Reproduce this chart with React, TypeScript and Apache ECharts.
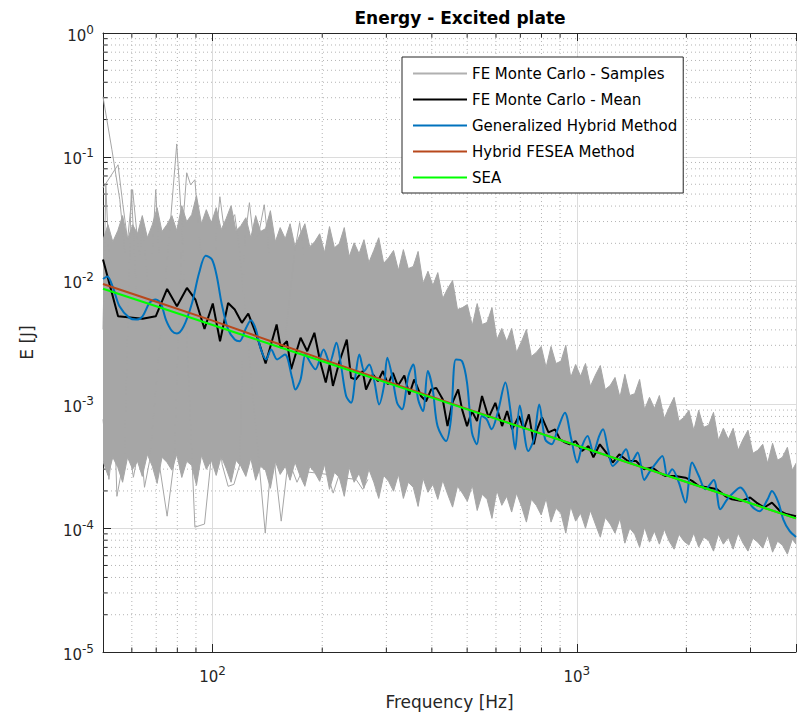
import React, { useEffect, useRef } from 'react';
import * as echarts from 'echarts';

const FONT = 'DejaVu Sans';
const GRAY = '#a6a6a6';
const AXIS = '#262626';

const X_MIN = 50;
const X_MAX = 4000;
const Y_MIN = 1e-5;
const Y_MAX = 1;

const legendNames = [
  'FE Monte Carlo - Samples',
  'FE Monte Carlo - Mean',
  'Generalized Hybrid Method',
  'Hybrid FESEA Method',
  'SEA',
];
const legendColors = ['#b0b0b0', '#000000', '#0072bd', '#b8481c', '#00ff00'];

const xMinorTicks = [60, 70, 80, 90, 200, 300, 400, 500, 600, 700, 800, 900, 2000, 3000];
const yMinorTicks = [
  2e-5, 3e-5, 4e-5, 5e-5, 6e-5, 7e-5, 8e-5, 9e-5,
  2e-4, 3e-4, 4e-4, 5e-4, 6e-4, 7e-4, 8e-4, 9e-4,
  2e-3, 3e-3, 4e-3, 5e-3, 6e-3, 7e-3, 8e-3, 9e-3,
  2e-2, 3e-2, 4e-2, 5e-2, 6e-2, 7e-2, 8e-2, 9e-2,
  0.2, 0.3, 0.4, 0.5, 0.6, 0.7, 0.8, 0.9,
];

// Monte Carlo sample cloud: frequency grid [Hz] with upper and lower envelope [J]
const cloudFreq = [
  50, 51.6, 53.2, 54.9, 56.6, 58.4, 60.3, 62.2, 64.1, 66.2,
  68.3, 70.4, 72.6, 74.9, 77.3, 79.7, 82.3, 84.9, 87.6, 90.3,
  93.2, 96.1, 99.2, 102.3, 105.6, 108.9, 112.4, 115.9, 119.6, 123.4,
  127.3, 131.3, 135.4, 139.7, 144.1, 148.7, 153.3, 158.3, 163.2, 168.4,
  173.7, 179.2, 184.8, 190.7, 196.8, 203, 209.4, 216, 222.8, 229.9,
  237.2, 244.7, 252.4, 260.4, 268.6, 277.1, 285.9, 295, 304.3, 313.9,
  323.8, 334.1, 344.6, 355.6, 366.7, 378.4, 390.3, 402.7, 415.3, 428.6,
  442, 456, 470.4, 485.3, 500.6, 516.5, 532.8, 549.7, 567, 585,
  603.4, 622.5, 642.2, 662.5, 683.4, 705.1, 727.3, 750.4, 774.1, 798.6,
  823.8, 849.9, 876.7, 904.5, 933, 962.6, 992.9, 1024.4, 1056.7, 1090.2,
  1124.6, 1160.6, 1196.8, 1235, 1273.7, 1314, 1355.5, 1398, 1442.6, 1488,
  1535.3, 1584, 1633.9, 1686, 1738.9, 1794, 1850.6, 1909, 1969.5, 2032,
  2096.1, 2162, 2230.7, 2301, 2374, 2449, 2526.6, 2607, 2688.9, 2774,
  2861.7, 2952, 3045.6, 3142, 3241.3, 3344, 3449.5, 3559, 3671.2, 3788,
  3907.1, 4000,
];
const cloudUpper = [
  0.0214, 0.0283, 0.0206, 0.0253, 0.0335, 0.0214, 0.0283, 0.0239, 0.0335, 0.0222,
  0.0283, 0.0388, 0.0249, 0.0283, 0.0335, 0.0253, 0.0403, 0.0299, 0.0341, 0.0485,
  0.0288, 0.0374, 0.0293, 0.0388, 0.0258, 0.0316, 0.0403, 0.0253, 0.0278, 0.0322,
  0.0222, 0.0335, 0.0249, 0.0263, 0.0367, 0.0206, 0.0268, 0.0218, 0.0288, 0.0188,
  0.0235, 0.0288, 0.0188, 0.0206, 0.0239, 0.0168, 0.0273, 0.0184, 0.0199, 0.0268,
  0.0156, 0.0202, 0.0165, 0.0214, 0.014, 0.0175, 0.0222, 0.0138, 0.0153, 0.0175,
  0.0121, 0.0178, 0.0125, 0.013, 0.0172, 0.00947, 0.0119, 0.00912, 0.0116, 0.00716,
  0.00862, 0.01, 0.00583, 0.00605, 0.0064, 0.00434, 0.00652, 0.00442, 0.00459, 0.00605,
  0.00334, 0.00411, 0.00322, 0.00411, 0.00263, 0.00322, 0.00403, 0.00244, 0.00263, 0.00294,
  0.00199, 0.00294, 0.00214, 0.00223, 0.003, 0.00165, 0.0021, 0.00169, 0.00214, 0.0014,
  0.00172, 0.00206, 0.00132, 0.00142, 0.00165, 0.00114, 0.00175, 0.00118, 0.00122, 0.00159,
  9.12e-4, 0.00114, 9.28e-4, 0.00118, 7.71e-4, 9.46e-4, 0.00114, 7.3e-4, 7.85e-4, 8.96e-4,
  6.18e-4, 8.96e-4, 6.53e-4, 6.78e-4, 8.62e-4, 5.13e-4, 6.41e-4, 5.22e-4, 6.41e-4, 4.26e-4,
  5.22e-4, 6.18e-4, 4.03e-4, 4.26e-4, 4.76e-4, 3.34e-4, 4.85e-4, 3.54e-4, 3.74e-4, 4.5e-4,
  2.94e-4, 3.34e-4,
];
const cloudLower = [
  3.47e-4, 2.67e-4, 3.74e-4, 3.1e-4, 2.35e-4, 3.74e-4, 2.99e-4, 3.47e-4, 2.62e-4, 3.95e-4,
  3.16e-4, 2.3e-4, 3.74e-4, 3.41e-4, 2.94e-4, 3.95e-4, 2.57e-4, 3.47e-4, 3.22e-4, 2.22e-4,
  3.88e-4, 2.99e-4, 3.54e-4, 2.67e-4, 3.81e-4, 3.05e-4, 2.35e-4, 3.54e-4, 3.16e-4, 2.62e-4,
  3.67e-4, 2.44e-4, 3.16e-4, 2.94e-4, 2.1e-4, 3.47e-4, 2.72e-4, 3.16e-4, 2.44e-4, 3.41e-4,
  2.67e-4, 2.18e-4, 3.16e-4, 2.82e-4, 2.39e-4, 3.28e-4, 2.06e-4, 2.82e-4, 2.57e-4, 1.81e-4,
  3.1e-4, 2.35e-4, 2.77e-4, 2.1e-4, 2.99e-4, 2.35e-4, 1.74e-4, 2.67e-4, 2.39e-4, 1.99e-4,
  2.72e-4, 1.74e-4, 2.35e-4, 2.14e-4, 1.5e-4, 2.53e-4, 1.95e-4, 2.26e-4, 1.71e-4, 2.44e-4,
  1.88e-4, 1.48e-4, 2.18e-4, 1.92e-4, 1.65e-4, 2.22e-4, 1.39e-4, 1.88e-4, 1.71e-4, 1.2e-4,
  2.02e-4, 1.53e-4, 1.81e-4, 1.35e-4, 1.92e-4, 1.5e-4, 1.12e-4, 1.71e-4, 1.53e-4, 1.28e-4,
  1.74e-4, 1.12e-4, 1.45e-4, 1.32e-4, 9.12e-5, 1.5e-4, 1.14e-4, 1.32e-4, 1.0e-4, 1.39e-4,
  1.08e-4, 8.46e-5, 1.22e-4, 1.08e-4, 9.12e-5, 1.2e-4, 7.57e-5, 1.0e-4, 8.95e-5, 7.03e-5,
  1.02e-4, 7.71e-5, 9.46e-5, 7.43e-5, 9.82e-5, 7.85e-5, 6.77e-5, 8.95e-5, 7.85e-5, 7.3e-5,
  9.12e-5, 7.03e-5, 8.46e-5, 8.0e-5, 6.53e-5, 8.95e-5, 7.43e-5, 8.46e-5, 6.77e-5, 9.12e-5,
  7.57e-5, 6.53e-5, 8.3e-5, 7.71e-5, 6.9e-5, 8.79e-5, 6.4e-5, 7.85e-5, 7.3e-5, 6.17e-5,
  8.15e-5, 7.43e-5,
];

// Individual outlying sample realisations [Hz, J]
const sampleA = [
  [50, 0.305], [52.9, 0.114], [55.6, 0.045], [59.1, 7.03e-3], [65.0, 2.14e-4], [67.1, 3.47e-4],
  [75.9, 0.0214], [79.7, 0.127], [82.8, 0.0214], [89.4, 1.02e-4], [95.0, 1.08e-4], [98.7, 3.28e-4],
  [102.0, 0.0214], [104.7, 0.0476], [107.6, 0.0258], [115.0, 0.0341], [118.1, 0.0195], [134.6, 2.99e-4],
  [139.5, 9.12e-5], [144.1, 2.88e-4], [168.4, 0.0178], [173.4, 0.0294], [178.1, 0.0162],
];
const sampleB = [
  [50, 0.0562], [55.0, 0.0862], [56.7, 0.041], [58.4, 0.0214], [60.3, 0.0542], [62.2, 0.0214],
  [71.4, 3.28e-4], [75.0, 1.25e-4], [78.4, 3.47e-4], [82.3, 0.0214], [84.9, 0.0743], [87.0, 0.0594],
  [89.4, 0.0653], [92.1, 0.0214], [106.2, 3.28e-4], [110.3, 2.18e-4], [114.4, 2.26e-4], [118.8, 3.28e-4],
  [122.6, 0.0214], [126.2, 0.0426], [129.6, 0.0214], [133.7, 0.0235], [138.6, 0.041], [142.3, 0.0195],
  [148.6, 2.99e-4], [154.3, 1.14e-4], [160.2, 2.99e-4], [165.3, 2.99e-4], [170.5, 2.35e-4], [175.9, 2.88e-4],
  [206.9, 2.72e-4], [214.3, 1.92e-4], [221.4, 2.58e-4], [247.7, 2.48e-4], [258.3, 2.06e-4], [267.0, 2.48e-4],
];
const sampleC = [
  [50, 4.03e-3], [50.9, 0.0594], [52.5, 7.03e-3], [54.6, 1.81e-4], [57.3, 3.95e-4], [59.8, 0.0542],
  [61.9, 7.03e-3], [64.1, 0.0283], [67.1, 7.03e-3], [69.8, 0.0542], [72.2, 7.03e-3], [75.9, 2.78e-3],
];
const sampleD = [
  [50, 7.57e-4], [51.9, 2.48e-4], [53.9, 6.29e-4], [55.9, 2.99e-4], [58.4, 5.22e-4], [60.6, 2.58e-4],
  [63.0, 4.76e-4], [65.4, 7.03e-3],
];

const meanData = [
  [50, 1.48e-2], [55.0, 5.15e-3], [64.2, 4.91e-3], [69.8, 5.15e-3], [75.0, 8.57e-3], [79.8, 6.2e-3],
  [85.0, 8.73e-3], [89.7, 7.03e-3], [95.0, 4.07e-3], [100.1, 6.53e-3], [104.8, 3.24e-3], [110.3, 6.6e-3],
  [115.0, 5.84e-3], [120.3, 4.56e-3], [125.3, 5.42e-3], [132.3, 3.56e-3], [139.8, 2.14e-3], [149.9, 4.42e-3],
  [153.8, 2.87e-3], [160.0, 3.24e-3], [164.3, 1.92e-3], [174.4, 3.45e-3], [181.9, 2.69e-3], [190.3, 3.79e-3],
  [197.3, 2.23e-3], [204.5, 1.5e-3], [209.6, 2.1e-3], [214.0, 1.41e-3], [223.1, 2.23e-3], [233.6, 3.34e-3],
  [240.0, 1.64e-3], [247.4, 1.59e-3], [258.3, 1.86e-3], [263.8, 1.32e-3], [275.5, 1.75e-3], [284.4, 1.54e-3],
  [293.6, 1.86e-3], [303.0, 1.45e-3], [312.7, 1.8e-3], [322.5, 1.41e-3], [336.1, 1.71e-3], [346.8, 1.2e-3],
  [357.7, 1.59e-3], [373.3, 1.17e-3], [385.6, 1.06e-3], [398.2, 1.32e-3], [411.3, 1.36e-3], [428.4, 1.1e-3],
  [441.6, 6.68e-4], [455.4, 1.03e-3], [472.5, 1.32e-3], [484.2, 9.12e-4], [499.6, 6.68e-4], [515.6, 8.83e-4],
  [532.2, 7.33e-4], [549.3, 1.17e-3], [572.8, 7.81e-4], [597.5, 1.03e-3], [623.6, 6.68e-4], [643.8, 8.83e-4],
  [664.5, 6.29e-4], [694, 8.05e-4], [716, 6.29e-4], [738.8, 8.3e-4], [762.5, 4.76e-4], [778, 6.29e-4],
  [802.3, 7.86e-4], [836.2, 5.95e-4], [872, 6.29e-4], [899.5, 5.22e-4], [927, 4.94e-4], [956, 4.76e-4],
  [992.5, 5.06e-4], [1034, 4.2e-4], [1077, 4.61e-4], [1111, 3.74e-4], [1157, 4.76e-4], [1205, 4.08e-4],
  [1255, 3.39e-4], [1308, 3.95e-4], [1381, 3.49e-4], [1455, 3.49e-4], [1532, 2.99e-4], [1613, 3.09e-4],
  [1682, 2.81e-4], [1753, 2.64e-4], [1866, 2.64e-4], [1988, 2.56e-4], [2074, 2.41e-4], [2164, 2.19e-4],
  [2304, 2.13e-4], [2428, 2.06e-4], [2557, 1.82e-4], [2668, 1.71e-4], [2841, 1.66e-4], [2993, 1.77e-4],
  [3115, 1.61e-4], [3270, 1.47e-4], [3436, 1.61e-4], [3620, 1.37e-4], [3766, 1.3e-4], [4000, 1.25e-4],
];

const hybridData = [
  [50, 1.03e-2], [51.4, 1.08e-2], [53.3, 8.73e-3], [55.5, 6.2e-3], [59.1, 5.0e-3], [61.7, 4.85e-3],
  [64.2, 5.15e-3], [67.1, 6.6e-3], [69.8, 7.03e-3], [72.1, 6.53e-3], [74.4, 4.85e-3], [77.4, 3.9e-3],
  [79.8, 3.74e-3], [83.3, 4.28e-3], [87.8, 6.6e-3], [91.8, 1.15e-2], [95.7, 1.59e-2], [99.6, 1.48e-2],
  [102.7, 1.08e-2], [105.8, 6.6e-3], [110.3, 4.03e-3], [115, 3.34e-3], [118.6, 3.24e-3], [123.6, 4.16e-3],
  [127.4, 4.79e-3], [131.5, 4.03e-3], [135.7, 2.78e-3], [140.3, 2.31e-3], [144.8, 2.78e-3], [150.4, 2.31e-3],
  [158, 2.53e-3], [165.3, 1.64e-3], [168.7, 1.32e-3], [174.4, 1.59e-3], [179.9, 2.53e-3], [185.6, 2.17e-3],
  [191.5, 1.92e-3], [201.8, 2.78e-3], [209.6, 2.17e-3], [218.7, 3.15e-3], [225.4, 2.04e-3], [232.6, 1.17e-3],
  [240, 1.03e-3], [247.4, 1.8e-3], [252.9, 2.53e-3], [260.9, 1.86e-3], [269.2, 2.1e-3], [278, 1.54e-3],
  [286.5, 1.0e-3], [295.5, 1.41e-3], [301.8, 2.38e-3], [311.2, 1.69e-3], [321, 1.03e-3], [331.1, 9.12e-4],
  [344.7, 1.69e-3], [355.5, 2.1e-3], [366.6, 1.1e-3], [378.1, 8.83e-4], [389.9, 1.86e-3], [402.2, 1.32e-3],
  [414.6, 6.68e-4], [437.6, 5.06e-4], [451.3, 7.57e-4], [465.5, 2.31e-3], [484.3, 2.23e-3], [499.6, 1.5e-3],
  [515.4, 5.91e-4], [531.7, 4.76e-4], [548.5, 8.05e-4], [565.8, 7.57e-4], [583.6, 6.29e-4], [606.5, 8.57e-4],
  [636.8, 1.5e-3], [656.8, 9.12e-4], [677.6, 4.34e-4], [697.4, 9.82e-4], [736, 4.2e-4], [762.5, 5.22e-4],
  [788.9, 1.0e-3], [819, 5.22e-4], [853.4, 4.76e-4], [886.1, 6.29e-4], [927.5, 8.57e-4], [966, 5.22e-4],
  [1003, 3.39e-4], [1034, 4.61e-4], [1071, 5.55e-4], [1111, 4.08e-4], [1152, 5.55e-4], [1181, 6.29e-4],
  [1218, 4.34e-4], [1255, 3.18e-4], [1308, 3.6e-4], [1366, 4.34e-4], [1409, 3.39e-4], [1470, 4.08e-4],
  [1532, 2.45e-4], [1580, 2.81e-4], [1640, 3.28e-4], [1718, 3.83e-4], [1773, 2.64e-4], [1829, 2.99e-4],
  [1906, 2.34e-4], [1988, 1.61e-4], [2074, 3.39e-4], [2164, 2.64e-4], [2255, 2.06e-4], [2378, 2.45e-4],
  [2478, 1.42e-4], [2589, 1.71e-4], [2697, 1.94e-4], [2811, 2.13e-4], [2900, 1.94e-4], [3023, 1.51e-4],
  [3177, 1.37e-4], [3342, 1.71e-4], [3436, 2.0e-4], [3580, 1.61e-4], [3690, 1.18e-4], [3840, 9.5e-5],
  [4000, 8.5e-5],
];

const fesea = [
  [50, 9.4e-3], [70, 6.75e-3], [100, 4.75e-3], [150, 3.12e-3], [200, 2.32e-3], [300, 1.54e-3],
  [500, 9.2e-4], [1000, 4.66e-4], [2000, 2.36e-4], [4000, 1.2e-4],
];

const sea = [
  [50, 8.6e-3], [70, 6.2e-3], [100, 4.38e-3], [150, 2.95e-3], [200, 2.23e-3], [300, 1.5e-3],
  [500, 9.12e-4], [700, 6.58e-4], [1000, 4.65e-4], [1500, 3.13e-4], [2000, 2.36e-4], [3000, 1.59e-4],
  [4000, 1.2e-4],
];

const powLabel = (v: number) => {
  const e = Math.log10(v);
  const r = Math.round(e);
  if (Math.abs(e - r) > 1e-6) return '';
  return `{b|10}{s|${r}}`;
};

const labelRich = {
  b: { fontFamily: FONT, fontSize: 15, lineHeight: 24, color: AXIS },
  s: { fontFamily: FONT, fontSize: 12, lineHeight: 6, verticalAlign: 'top', color: AXIS },
};

const gridLineStyle = { stroke: '#b4b4b4', lineWidth: 1, lineDash: [1, 3] };
const tickStyle = { stroke: AXIS, lineWidth: 1 };

const renderXMinor = (params: any, api: any) => {
  const cs = params.coordSys;
  const x = api.coord([api.value(0), 1e-3])[0];
  const bottom = cs.y + cs.height;
  return {
    type: 'group',
    children: [
      { type: 'line', shape: { x1: x, y1: cs.y, x2: x, y2: bottom }, style: gridLineStyle },
      { type: 'line', shape: { x1: x, y1: bottom, x2: x, y2: bottom - 4.5 }, style: tickStyle },
      { type: 'line', shape: { x1: x, y1: cs.y, x2: x, y2: cs.y + 4.5 }, style: tickStyle },
    ],
  };
};

const renderYMinor = (params: any, api: any) => {
  const cs = params.coordSys;
  const y = api.coord([100, api.value(1)])[1];
  return {
    type: 'group',
    children: [
      { type: 'line', shape: { x1: cs.x, y1: y, x2: cs.x + cs.width, y2: y }, style: gridLineStyle },
      { type: 'line', shape: { x1: cs.x, y1: y, x2: cs.x + 4.5, y2: y }, style: tickStyle },
    ],
  };
};

const renderCloud = (_params: any, api: any) => {
  const top = cloudFreq.map((f, i) => api.coord([f, cloudUpper[i]]));
  const bottom = cloudFreq.map((f, i) => api.coord([f, cloudLower[i]])).reverse();
  return {
    type: 'polygon',
    shape: { points: [...top, ...bottom] },
    style: { fill: GRAY, stroke: GRAY, lineWidth: 1 },
  };
};

const grayLine = (data: number[][]) => ({
  type: 'line',
  name: legendNames[0],
  data,
  showSymbol: false,
  symbol: 'none',
  lineStyle: { color: GRAY, width: 1 },
  itemStyle: { color: GRAY },
  z: 3,
});

const mainLine = (name: string, data: number[][], color: string, z: number, smooth = 0) => ({
  type: 'line',
  name,
  data,
  showSymbol: false,
  symbol: 'none',
  smooth,
  lineStyle: { color, width: 2 },
  itemStyle: { color },
  z,
});

export default function App() {
  const ref = useRef<HTMLDivElement>(null);

  useEffect(() => {
    if (!ref.current) return;
    const chart = echarts.init(ref.current, null, { renderer: 'svg' });
    const option: any = {
      animation: false,
      backgroundColor: '#ffffff',
      title: {
        text: 'Energy - Excited plate',
        left: 455,
        top: 4,
        textAlign: 'center',
        textStyle: { fontFamily: FONT, fontSize: 17, fontWeight: 'bold', color: '#000' },
      },
      legend: {
        data: legendNames.map((name, i) => ({
          name,
          icon: 'rect',
          itemStyle: { color: legendColors[i] },
        })),
        orient: 'vertical',
        left: 402,
        top: 57,
        itemWidth: 54,
        itemHeight: 2,
        itemGap: 11,
        padding: [9, 6, 8, 11],
        borderColor: AXIS,
        borderWidth: 1,
        backgroundColor: '#fff',
        textStyle: { fontFamily: FONT, fontSize: 15, color: '#000' },
      },
      grid: { left: 103, top: 33, width: 704, height: 620, containLabel: false },
      xAxis: [
        {
          type: 'log',
          logBase: 10,
          min: X_MIN,
          max: X_MAX,
          position: 'bottom',
          axisLine: { show: true, onZero: false, lineStyle: { color: AXIS, width: 1 } },
          axisTick: { show: true, inside: true, length: 8, lineStyle: { color: AXIS } },
          axisLabel: { formatter: powLabel, rich: labelRich, margin: 13, color: AXIS, fontFamily: FONT },
          splitLine: { show: true, lineStyle: { color: '#dcdcdc', width: 1 } },
          name: 'Frequency [Hz]',
          nameLocation: 'middle',
          nameGap: 41,
          nameTextStyle: { fontFamily: FONT, fontSize: 17, color: AXIS },
        },
        {
          type: 'log',
          logBase: 10,
          min: X_MIN,
          max: X_MAX,
          position: 'top',
          axisLine: { show: true, onZero: false, lineStyle: { color: AXIS, width: 1 } },
          axisTick: { show: true, inside: true, length: 8, lineStyle: { color: AXIS } },
          axisLabel: { show: false },
          splitLine: { show: false },
        },
      ],
      yAxis: {
        type: 'log',
        logBase: 10,
        min: Y_MIN,
        max: Y_MAX,
        axisLine: { show: true, onZero: false, lineStyle: { color: AXIS, width: 1 } },
        axisTick: { show: true, inside: true, length: 8, lineStyle: { color: AXIS } },
        axisLabel: {
          formatter: powLabel,
          rich: labelRich,
          margin: 9,
          padding: [5, 0, 0, 0],
          color: AXIS,
          fontFamily: FONT,
        },
        splitLine: { show: true, lineStyle: { color: '#dcdcdc', width: 1 } },
        name: 'E [J]',
        nameLocation: 'middle',
        nameGap: 68,
        nameTextStyle: { fontFamily: FONT, fontSize: 17, color: AXIS },
      },
      series: [
        {
          type: 'custom',
          name: 'xMinorGrid',
          data: xMinorTicks.map((v) => [v, 1e-3]),
          renderItem: renderXMinor,
          silent: true,
          z: 1,
          clip: false,
        },
        {
          type: 'custom',
          name: 'yMinorGrid',
          data: yMinorTicks.map((v) => [100, v]),
          renderItem: renderYMinor,
          silent: true,
          z: 1,
          clip: false,
        },
        {
          type: 'custom',
          name: 'samplesCloud',
          data: [[100, 1e-3]],
          renderItem: renderCloud,
          silent: true,
          z: 2,
          clip: true,
        },
        grayLine(sampleA),
        grayLine(sampleB),
        grayLine(sampleC),
        grayLine(sampleD),
        mainLine(legendNames[1], meanData, '#000000', 4),
        mainLine(legendNames[2], hybridData, '#0072bd', 5, 0.3),
        mainLine(legendNames[3], fesea, '#b8481c', 6),
        mainLine(legendNames[4], sea, '#00ff00', 7),
      ],
    };
    chart.setOption(option);
    return () => chart.dispose();
  }, []);

  return (
    <div
      ref={ref}
      style={{ position: 'fixed', left: 0, top: 0, width: 799, height: 715, background: '#fff' }}
    />
  );
}
